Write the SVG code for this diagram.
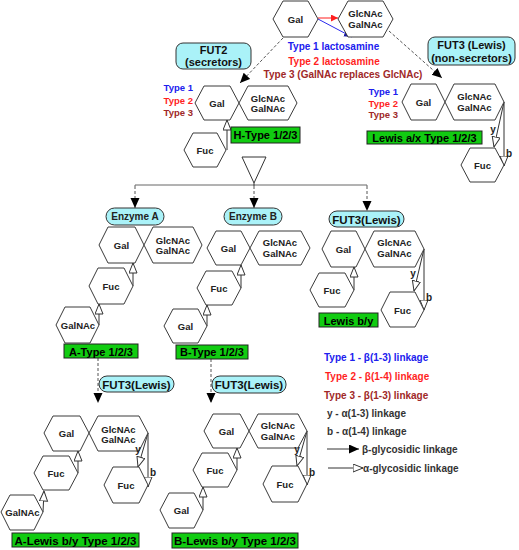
<svg xmlns="http://www.w3.org/2000/svg" width="519" height="550" viewBox="0 0 519 550">
<style>
text{font-family:"Liberation Sans",Arial,sans-serif;font-weight:bold;}
.hex{fill:#fff;stroke:#3a3a3a;stroke-width:1;}
.ht{font-size:9.5px;fill:#222;text-anchor:middle;}
.enz{fill:#aaf2f8;stroke:#333;stroke-width:1;}
.et{font-size:11px;fill:#111;text-anchor:middle;}
.grn{fill:#11cc11;stroke:#222;stroke-width:1;}
.gt{font-size:11px;fill:#000;text-anchor:middle;}
.t1{fill:#2020ee;font-size:9.5px;}
.t2{fill:#ff1f1f;font-size:9.5px;}
.t3{fill:#a02828;font-size:9.5px;}
.lg{font-size:10px;}
.dk{fill:#333;}
.lnk{stroke:#333;stroke-width:1;fill:none;}
.dash{stroke:#555;stroke-width:1;stroke-dasharray:3,2;fill:none;}
.lbl{font-size:10px;fill:#222;}
</style>
<defs>
<marker id="op" markerUnits="userSpaceOnUse" markerWidth="11" markerHeight="10" refX="10.5" refY="4.5" orient="auto"><path d="M0.5,0.5 L10.5,4.5 L0.5,8.5 z" fill="#fff" stroke="#333" stroke-width="1"/></marker>
<marker id="fl" markerUnits="userSpaceOnUse" markerWidth="11" markerHeight="10" refX="10" refY="4.5" orient="auto"><path d="M0,0 L10,4.5 L0,9 z" fill="#000"/></marker>
<marker id="rd" markerUnits="userSpaceOnUse" markerWidth="8" markerHeight="8" refX="7" refY="3.5" orient="auto"><path d="M0,0 L7,3.5 L0,7 z" fill="#ff1f1f"/></marker>
<marker id="bl" markerUnits="userSpaceOnUse" markerWidth="9" markerHeight="8" refX="8" refY="3.5" orient="auto"><path d="M0,0 L8,3.5 L0,7 z" fill="#1a1aa0"/></marker>
</defs>

<g id="connectors">
<line x1="318" y1="18" x2="338" y2="18" stroke="#ff1f1f" stroke-width="1" marker-end="url(#rd)"/>
<line x1="318" y1="19" x2="352" y2="37" stroke="#2a2aee" stroke-width="1" marker-end="url(#bl)"/>
<line class="dash" x1="283" y1="38" x2="240" y2="83" marker-end="url(#fl)"/>
<line class="dash" x1="389" y1="31" x2="442" y2="78" marker-end="url(#fl)"/>
<line class="lnk" x1="227" y1="150" x2="227" y2="120" marker-end="url(#op)"/>
<line class="lnk" x1="504" y1="102" x2="494" y2="147" marker-end="url(#op)"/>
<line class="lnk" x1="504" y1="102" x2="504" y2="166" marker-end="url(#op)"/>
<polygon points="242,157 266,157 254,183" fill="#fff" stroke="#333" stroke-width="1"/>
<polyline points="135,186 135,185 367,185 367,186" fill="none" stroke="#666" stroke-width="1"/>
<line x1="254" y1="183" x2="254" y2="186" stroke="#333"/>
<line class="dash" x1="135" y1="186" x2="135" y2="208" marker-end="url(#fl)"/>
<line class="dash" x1="254" y1="186" x2="254" y2="208" marker-end="url(#fl)"/>
<line class="dash" x1="367" y1="186" x2="367" y2="211" marker-end="url(#fl)"/>
<line class="lnk" x1="133" y1="286" x2="133" y2="263" marker-end="url(#op)"/>
<line class="lnk" x1="99" y1="325" x2="99" y2="304" marker-end="url(#op)"/>
<line class="lnk" x1="241" y1="288" x2="241" y2="265" marker-end="url(#op)"/>
<line class="lnk" x1="207" y1="326" x2="207" y2="305" marker-end="url(#op)"/>
<line class="lnk" x1="354" y1="290" x2="354" y2="267" marker-end="url(#op)"/>
<line class="lnk" x1="424" y1="249" x2="414" y2="291" marker-end="url(#op)"/>
<line class="lnk" x1="424" y1="249" x2="424" y2="310" marker-end="url(#op)"/>
<line class="dash" x1="98" y1="358" x2="98" y2="403" marker-end="url(#fl)"/>
<line class="dash" x1="211" y1="359" x2="211" y2="403" marker-end="url(#fl)"/>
<line class="lnk" x1="78" y1="473" x2="78" y2="451" marker-end="url(#op)"/>
<line class="lnk" x1="43" y1="512" x2="44" y2="491" marker-end="url(#op)"/>
<line class="lnk" x1="148" y1="433" x2="138" y2="467" marker-end="url(#op)"/>
<line class="lnk" x1="148" y1="433" x2="148" y2="487" marker-end="url(#op)"/>
<line class="lnk" x1="237" y1="470" x2="237" y2="448" marker-end="url(#op)"/>
<line class="lnk" x1="203" y1="510" x2="203" y2="487" marker-end="url(#op)"/>
<line class="lnk" x1="307" y1="431" x2="297" y2="466" marker-end="url(#op)"/>
<line class="lnk" x1="307" y1="431" x2="307" y2="485" marker-end="url(#op)"/>
<line class="lnk" x1="327" y1="449" x2="359" y2="449" marker-end="url(#fl)"/>
<line class="lnk" x1="328" y1="468" x2="363" y2="468" marker-end="url(#op)"/>
</g>

<g id="top">
<g id="top-gal"><polygon class="hex" points="273,19 283,1 308,1 318,19 308,37 283,37"/><text class="ht" x="295.5" y="22.5">Gal</text></g>
<g id="top-glcnac"><polygon class="hex" points="338,19 348,1 383,1 393,19 383,37 348,37"/><text class="ht" x="365.5" y="17">GlcNAc</text><text class="ht" x="365.5" y="28">GalNAc</text></g>
<text class="t1 lg" x="333.5" y="50" text-anchor="middle" style="font-size:10px">Type 1 lactosamine</text>
<text class="t2 lg" x="334" y="64.5" text-anchor="middle" style="font-size:10px">Type 2 lactosamine</text>
<text class="t3 lg" x="343" y="78" text-anchor="middle" style="font-size:10px">Type 3 (GalNAc replaces GlcNAc)</text>
</g>

<g id="fut2"><rect class="enz" x="176" y="43" width="75" height="26" rx="7"/><text class="et" x="213.5" y="54">FUT2</text><text class="et" x="213.5" y="66">(secretors)</text></g>
<g id="fut3-top"><rect class="enz" x="428" y="37" width="87" height="28" rx="7"/><text class="et" x="471.5" y="49">FUT3 (Lewis)</text><text class="et" x="471.5" y="61.5">(non-secretors)</text></g>

<g id="h-type">
<text class="t1" x="193" y="90.5" text-anchor="end">Type 1</text>
<text class="t2" x="193" y="103.5" text-anchor="end">Type 2</text>
<text class="t3" x="193" y="116" text-anchor="end">Type 3</text>
<g id="h-gal"><polygon class="hex" points="195,103 204,86 230,86 239,103 230,120 204,120"/><text class="ht" x="217" y="106.5">Gal</text></g>
<g id="h-glcnac"><polygon class="hex" points="239,103 248,86 288,86 297,103 288,120 248,120"/><text class="ht" x="268" y="101.5">GlcNAc</text><text class="ht" x="268" y="111.5">GalNAc</text></g>
<g id="h-fuc"><polygon class="hex" points="184,150 193,133 217,133 226,150 217,167 193,167"/><text class="ht" x="205" y="153.5">Fuc</text></g>
<g id="h-label"><rect class="grn" x="231" y="127" width="69" height="16"/><text class="gt" x="265.5" y="139">H-Type 1/2/3</text></g>
</g>

<g id="lewis-ax">
<text class="t1" x="398" y="94.5" text-anchor="end">Type 1</text>
<text class="t2" x="398" y="106.5" text-anchor="end">Type 2</text>
<text class="t3" x="398" y="118" text-anchor="end">Type 3</text>
<g id="ax-gal"><polygon class="hex" points="402,102 411,84 436,84 445,102 436,120 411,120"/><text class="ht" x="423.5" y="105.5">Gal</text></g>
<g id="ax-glcnac"><polygon class="hex" points="445,102 454,84 495,84 504,102 495,120 454,120"/><text class="ht" x="474.5" y="100">GlcNAc</text><text class="ht" x="474.5" y="110.5">GalNAc</text></g>
<g id="ax-fuc"><polygon class="hex" points="461,165 470,148 495,148 504,165 495,182 470,182"/><text class="ht" x="482.5" y="168.5">Fuc</text></g>
<text class="lbl" x="493" y="133" text-anchor="middle">y</text>
<text class="lbl" x="506" y="157">b</text>
<g id="ax-label"><rect class="grn" x="367" y="131" width="115" height="13"/><text class="gt" x="424.5" y="141.5">Lewis a/x Type 1/2/3</text></g>
</g>

<g id="enzyme-a"><rect class="enz" x="106" y="208" width="58" height="17" rx="8.5"/><text class="ht" x="135" y="220" style="font-size:10px">Enzyme A</text></g>
<g id="enzyme-b"><rect class="enz" x="224" y="208" width="58" height="17" rx="8.5"/><text class="ht" x="253" y="220" style="font-size:10px">Enzyme B</text></g>
<g id="fut3-mid"><rect class="enz" x="329" y="211" width="75" height="16" rx="8"/><text class="et" x="366.5" y="223.5" style="font-size:11.5px">FUT3(Lewis)</text></g>

<g id="a-type">
<g id="a-gal"><polygon class="hex" points="99,245 108,227 135,227 144,245 135,263 108,263"/><text class="ht" x="121.5" y="248.5">Gal</text></g>
<g id="a-glcnac"><polygon class="hex" points="144,245 153,227 193,227 202,245 193,263 153,263"/><text class="ht" x="173" y="243.5">GlcNAc</text><text class="ht" x="173" y="253.5">GalNAc</text></g>
<g id="a-fuc"><polygon class="hex" points="89,286 98,268 124,268 133,286 124,304 98,304"/><text class="ht" x="111" y="289.5">Fuc</text></g>
<g id="a-galnac"><polygon class="hex" points="56,325 65,307 90,307 99,325 90,343 65,343"/><text class="ht" x="78" y="328.5">GalNAc</text></g>
<g id="a-label"><rect class="grn" x="64" y="344" width="74" height="14"/><text class="gt" x="101" y="355.5">A-Type 1/2/3</text></g>
</g>

<g id="b-type">
<g id="b-gal"><polygon class="hex" points="207,248 216,231 241,231 250,248 241,265 216,265"/><text class="ht" x="228.5" y="251.5">Gal</text></g>
<g id="b-glcnac"><polygon class="hex" points="250,248 259,231 301,231 310,248 301,265 259,265"/><text class="ht" x="280" y="246">GlcNAc</text><text class="ht" x="280" y="256.5">GalNAc</text></g>
<g id="b-fuc"><polygon class="hex" points="197,288 206,271 232,271 241,288 232,305 206,305"/><text class="ht" x="219" y="291.5">Fuc</text></g>
<g id="b-gal2"><polygon class="hex" points="164,326 173,309 198,309 207,326 198,343 173,343"/><text class="ht" x="185.5" y="329.5">Gal</text></g>
<g id="b-label"><rect class="grn" x="176" y="345" width="72" height="14"/><text class="gt" x="212" y="356">B-Type 1/2/3</text></g>
</g>

<g id="lewis-by">
<g id="by-gal"><polygon class="hex" points="322,249 331,231 356,231 365,249 356,267 331,267"/><text class="ht" x="343.5" y="252.5">Gal</text></g>
<g id="by-glcnac"><polygon class="hex" points="365,249 374,231 415,231 424,249 415,267 374,267"/><text class="ht" x="394.5" y="246">GlcNAc</text><text class="ht" x="394.5" y="256.5">GalNAc</text></g>
<g id="by-fuc1"><polygon class="hex" points="310,290 319,273 345,273 354,290 345,307 319,307"/><text class="ht" x="332" y="293.5">Fuc</text></g>
<g id="by-fuc2"><polygon class="hex" points="381,310 390,292 415,292 424,310 415,327 390,327"/><text class="ht" x="402.5" y="313.5">Fuc</text></g>
<text class="lbl" x="413" y="277" text-anchor="middle">y</text>
<text class="lbl" x="426" y="301">b</text>
<g id="by-label"><rect class="grn" x="319" y="313" width="59" height="14"/><text class="gt" x="348.5" y="324.5">Lewis b/y</text></g>
</g>

<g id="fut3-a"><rect class="enz" x="99" y="376" width="75" height="16" rx="8"/><text class="et" x="136.5" y="388.5" style="font-size:11.5px">FUT3(Lewis)</text></g>
<g id="fut3-b"><rect class="enz" x="212" y="376" width="74" height="17" rx="8"/><text class="et" x="249" y="389" style="font-size:11.5px">FUT3(Lewis)</text></g>

<g id="a-lewis">
<g id="al-gal"><polygon class="hex" points="44,433 53,416 80,416 89,433 80,451 53,451"/><text class="ht" x="66.5" y="437">Gal</text></g>
<g id="al-glcnac"><polygon class="hex" points="89,433 98,416 139,416 148,433 139,451 98,451"/><text class="ht" x="118.5" y="432.5">GlcNAc</text><text class="ht" x="118.5" y="443">GalNAc</text></g>
<g id="al-fuc"><polygon class="hex" points="34,473 43,456 69,456 78,473 69,490 43,490"/><text class="ht" x="56" y="476.5">Fuc</text></g>
<g id="al-galnac"><polygon class="hex" points="1,512 10,495 34,495 43,512 34,530 10,530"/><text class="ht" x="22.5" y="515.5">GalNAc</text></g>
<g id="al-fuc2"><polygon class="hex" points="104,485 113,467 139,467 148,485 139,503 113,503"/><text class="ht" x="126" y="488.5">Fuc</text></g>
<text class="lbl" x="138" y="453" text-anchor="middle">y</text>
<text class="lbl" x="150" y="476">b</text>
<g id="al-label"><rect class="grn" x="12" y="533" width="127" height="14"/><text class="gt" x="75.5" y="544.5" style="font-size:11.5px">A-Lewis b/y Type 1/2/3</text></g>
</g>

<g id="b-lewis">
<g id="bl-gal"><polygon class="hex" points="204,431 213,414 240,414 249,431 240,448 213,448"/><text class="ht" x="226.5" y="434.5">Gal</text></g>
<g id="bl-glcnac"><polygon class="hex" points="249,431 258,414 298,414 307,431 298,448 258,448"/><text class="ht" x="278" y="428.5">GlcNAc</text><text class="ht" x="278" y="439.5">GalNAc</text></g>
<g id="bl-fuc"><polygon class="hex" points="193,470 202,453 228,453 237,470 228,487 202,487"/><text class="ht" x="215" y="473.5">Fuc</text></g>
<g id="bl-gal2"><polygon class="hex" points="160,510 169,493 194,493 203,510 194,528 169,528"/><text class="ht" x="181.5" y="513.5">Gal</text></g>
<g id="bl-fuc2"><polygon class="hex" points="263,484 272,466 298,466 307,484 298,502 272,502"/><text class="ht" x="285" y="487.5">Fuc</text></g>
<text class="lbl" x="297" y="453" text-anchor="middle">y</text>
<text class="lbl" x="309" y="476">b</text>
<g id="bl-label"><rect class="grn" x="172" y="533" width="126" height="15"/><text class="gt" x="235" y="544.5" style="font-size:11.5px">B-Lewis b/y Type 1/2/3</text></g>
</g>

<g id="legend">
<text class="lg" x="324" y="361" fill="#2020ee">Type 1 - β(1-3) linkage</text>
<text class="lg" x="325" y="380" fill="#ff1f1f">Type 2 - β(1-4) linkage</text>
<text class="lg" x="324" y="399" fill="#a02828">Type 3 - β(1-3) linkage</text>
<text class="lg dk" x="327" y="417">y - α(1-3) linkage</text>
<text class="lg dk" x="327" y="435">b - α(1-4) linkage</text>
<text class="lg dk" x="362" y="453">β-glycosidic linkage</text>
<text class="lg dk" x="363" y="472">α-glycosidic linkage</text>
</g>
</svg>
